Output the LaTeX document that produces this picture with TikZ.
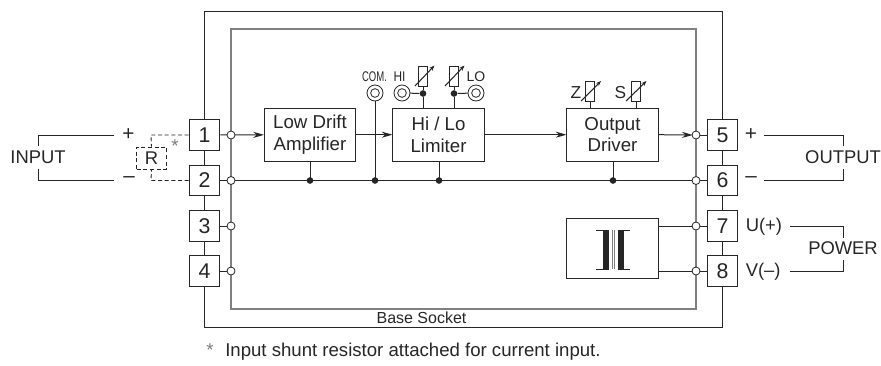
\documentclass[tikz,border=0pt]{standalone}
\usepackage{fontspec}
\setmainfont{Liberation Sans}
\usetikzlibrary{arrows.meta}
\definecolor{ink}{gray}{0.15}
\definecolor{bar}{gray}{0.5}
\newcommand{\fs}[1]{\fontsize{#1}{#1}\selectfont}
\tikzset{
 wire/.style={draw=ink,line width=0.75pt},
 gwire/.style={draw=bar,line width=0.95pt},
 term/.style={draw=ink,fill=white,line width=0.75pt,minimum width=23pt,minimum height=23pt,inner sep=0pt,text=ink,font=\fs{16}},
 blk/.style={draw=ink,fill=white,line width=0.75pt,inner sep=0pt,text=ink,align=center,font=\fontsize{14}{16}\selectfont},
 hole/.style={circle,draw=ink,fill=white,line width=0.6pt,minimum size=6pt,inner sep=0pt},
 dot/.style={circle,fill=ink,minimum size=5pt,inner sep=0pt},
 ring/.style={circle,draw=ink,fill=white,line width=0.6pt,minimum size=12pt,inner sep=0pt},
 ringin/.style={circle,draw=ink,line width=0.6pt,minimum size=6.5pt,inner sep=0pt},
 lab/.style={text=ink,inner sep=0pt,font=\fs{13.8}},
 sgn/.style={text=ink,inner sep=0pt,font=\fs{15.5}},
 small/.style={text=ink,inner sep=0pt,font=\fs{10.5}},
 pot/.style={draw=ink,fill=white,line width=0.6pt,minimum width=6.4pt,minimum height=14.5pt,inner sep=0pt},
 arr/.style={wire,-{Stealth[length=8pt,width=4.5pt,inset=2.5pt]}},
 trim/.style={draw=ink,line width=0.8pt,-{Stealth[length=4pt,width=3pt]}},
 dash2/.style={draw=ink,line width=0.7pt,dash pattern=on 3pt off 2pt}
}
\begin{document}
\begin{tikzpicture}[x=0.75pt,y=-0.75pt]
\useasboundingbox (0,0) rectangle (881,365);
% socket frames
\coordinate (oTL) at (204.5,11); \coordinate (oBR) at (722.5,327);
\coordinate (iTL) at (231,29); \coordinate (iBR) at (696,309);
\draw[wire] (oTL) rectangle (oBR);
\draw[gwire] (iTL) rectangle (iBR);
% terminals
\node[term] (t1) at (204.5,135) {1};
\node[term] (t2) at (204.5,180.5) {2};
\node[term] (t3) at (204.5,226) {3};
\node[term] (t4) at (204.5,271) {4};
\node[term] (t5) at (722.5,135) {5};
\node[term] (t6) at (722.5,180.5) {6};
\node[term] (t7) at (722.5,226) {7};
\node[term] (t8) at (722.5,271) {8};
% blocks
\node[blk,minimum width=68.3pt,minimum height=39.8pt] (amp) at (310,134.7) {Low Drift\\Amplifier};
\node[blk,minimum width=68.3pt,minimum height=39.8pt] (lim) at (438.5,134.7) {Hi / Lo\\Limiter};
\node[blk,minimum width=68.3pt,minimum height=39.8pt] (drv) at (612.5,134.7) {Output\\Driver};
\node[blk,minimum width=68.3pt,minimum height=45.5pt] (psu) at (612.5,248.5) {};
% holes
\foreach \n/\x/\y in {h1/231/135,h2/231/180.5,h3/231/226,h4/231/271,h5/696/135,h6/696/180.5,h7/696/226,h8/696/271}
  \coordinate (\n c) at (\x,\y);
% dots on bus
\coordinate (dA) at (310,180.5); \coordinate (dB) at (375,180.5); \coordinate (dC) at (439,180.5); \coordinate (dD) at (613,180.5);
% wires
\draw[arr] (t1) -- (amp);
\draw[arr] (amp) -- (lim);
\draw[arr] (lim) -- (drv);
\draw[arr,shorten >=2.5pt] (drv.east) -- (h5c);
\draw[wire] (h5c) -- (t5);
\draw[wire] (t2) -- (t6);
\draw[wire] (t3) -- (h3c);
\draw[wire] (t4) -- (h4c);
\draw[wire] (psu.east |- h7c) -- (t7);
\draw[wire] (psu.east |- h8c) -- (t8);
\draw[wire] (amp.south -| dA) -- (dA);
\draw[wire] (lim.south -| dC) -- (dC);
\draw[wire] (drv.south -| dD) -- (dD);
% COM
\node[ring] (com) at (375,93) {};
\node[ringin] (com2) at (com) {};
\draw[wire] (com) -- (dB);
% HI LO
\node[ring] (hi) at (402,93) {};
\node[ringin] (hi2) at (hi) {};
\node[ring] (lo) at (476,93) {};
\node[ringin] (lo2) at (lo) {};
\node[dot] (dH) at (423,93.5) {};
\node[dot] (dL) at (454,93.5) {};
\draw[wire] (hi) -- (dH); \draw[wire] (lo) -- (dL);
\draw[wire] (dH) -- (dH |- lim.north);
\draw[wire] (dL) -- (dL |- lim.north);
\node[pot] (pH) at (423,76.5) {};
\node[pot] (pL) at (454,76.5) {};
\draw[wire] (pH) -- (dH); \draw[wire] (pL) -- (dL);
\draw[trim] (415,86) -- (434.5,65.5);
\draw[trim] (445,86) -- (464.5,65.5);
% Z S
\node[pot] (pZ) at (590,91.5) {};
\node[pot] (pS) at (636,91.5) {};
\draw[wire] (pZ) -- (pZ |- drv.north);
\draw[wire] (pS) -- (pS |- drv.north);
\draw[trim] (581,101) -- (601,81);
\draw[trim] (626,101) -- (646.5,81);
% bus dots
\foreach \d in {dA,dB,dC,dD} \node[dot] at (\d) {};
\foreach \n in {h1,h2,h3,h4,h5,h6,h7,h8} \node[hole] at (\n c) {};
% transformer
\fill[ink] (603,230) rectangle (609,269);
\fill[ink] (618,230) rectangle (624,269);
\draw[ink,line width=0.7pt] (596,230.5) -- (609,230.5) (596,269) -- (609,269);
\draw[ink,line width=0.7pt] (618,230.5) -- (630,230.5) (618,269) -- (630,269);
\draw[bar,line width=0.6pt] (612,230) -- (612,269) (614,230) -- (614,269);
% input side
\coordinate (ipA) at (114,135); \coordinate (imA) at (114,180.5);
\node[lab] (inp) at (38,157.5) {INPUT};
\coordinate (ipB) at (38,146); \coordinate (imB) at (38,169);
\draw[wire] (ipB) |- (ipA);
\draw[wire] (imB) |- (imA);
\node[sgn] at (128.5,135) {+};
\node[sgn] at (129,180) {–};
\node[draw=ink,line width=0.7pt,dash pattern=on 3pt off 2pt,minimum width=22.5pt,minimum height=16.5pt,inner sep=0pt,text=ink,font=\fs{13.8}] (R) at (151.5,158) {R};
\coordinate (rp) at (151,135); \coordinate (rm) at (151,180.5);
\draw[dash2] (t1.west) -- (rp) -- (R.north);
\draw[dash2] (t2.west) -- (rm) -- (R.south);
\node[text=ink!60,inner sep=0pt,font=\fs{14}] at (175,146) {*};
% output side
\node[lab] (outl) at (843,157.5) {OUTPUT};
\coordinate (opA) at (764,135); \coordinate (omA) at (764,180.5);
\coordinate (opB) at (843.5,146); \coordinate (omB) at (843.5,169);
\draw[wire] (opA) -| (opB);
\draw[wire] (omA) -| (omB);
\node[sgn] at (751,135) {+};
\node[sgn] at (751,180) {–};
% power
\node[lab] (pw) at (843,248) {POWER};
\coordinate (ppA) at (790,226); \coordinate (pmA) at (790,271);
\coordinate (ppB) at (843.5,238); \coordinate (pmB) at (843.5,260);
\draw[wire] (ppA) -| (ppB);
\draw[wire] (pmA) -| (pmB);
\node[lab,anchor=west] at (745.5,227) {U(+)};
\node[lab,anchor=west] at (745.5,272) {V(–)};
% labels
\node[small,xscale=0.68,transform shape] at (374.5,76.7) {COM.};
\node[small,xscale=0.85,transform shape] at (399.5,76.7) {HI};
\node[small] at (476,76.7) {LO};
\node[text=ink,inner sep=0pt,font=\fs{13}] at (576,92.5) {Z};
\node[text=ink,inner sep=0pt,font=\fs{13}] at (620.5,92.5) {S};
\node[text=ink,inner sep=0pt,font=\fs{12}] at (421.5,318) {Base Socket};
\node[text=ink!60,inner sep=0pt,font=\fs{14},anchor=center] at (210,350) {*};
\node[text=ink,inner sep=0pt,font=\fs{13.95},anchor=west] at (225,352) {Input shunt resistor attached for current input.};
\end{tikzpicture}
\end{document}
